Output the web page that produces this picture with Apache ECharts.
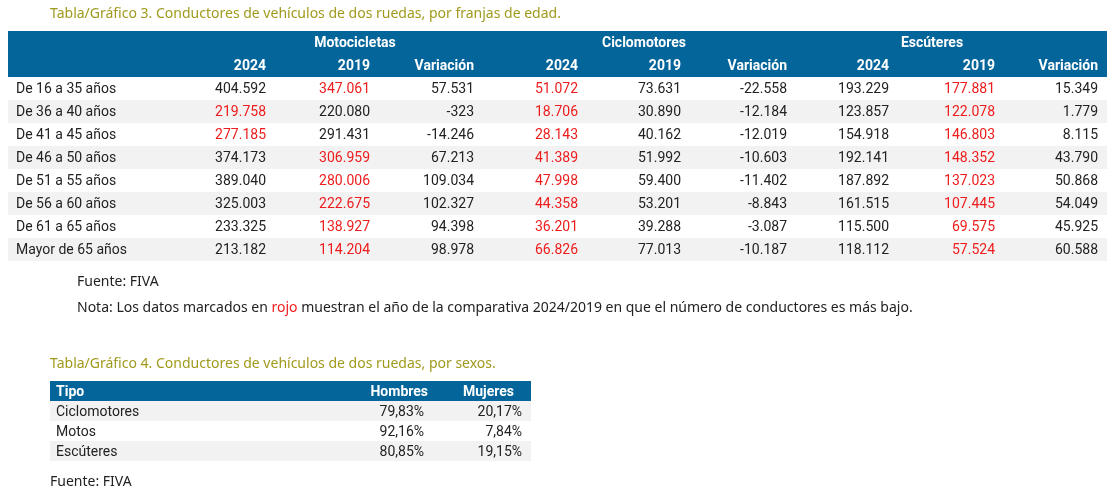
<!DOCTYPE html>
<html>
<head>
<meta charset="utf-8">
<title>Conductores de vehículos de dos ruedas</title>
<script src="https://cdn.jsdelivr.net/npm/echarts@6/dist/echarts.min.js"></script>
<style>html,body{margin:0;padding:0;background:#fff}</style>
</head>
<body>
<div id="main" style="width:1110px;height:491px;"></div>
<script>
// datos tabla 3
var edades = ['De 16 a 35 años','De 36 a 40 años','De 41 a 45 años','De 46 a 50 años','De 51 a 55 años','De 56 a 60 años','De 61 a 65 años','Mayor de 65 años'];
var grupos = ['Motocicletas','Ciclomotores','Escúteres'];
var subCols = ['2024','2019','Variación'];
var moto = [['404.592','347.061','57.531'],['219.758','220.080','-323'],['277.185','291.431','-14.246'],['374.173','306.959','67.213'],['389.040','280.006','109.034'],['325.003','222.675','102.327'],['233.325','138.927','94.398'],['213.182','114.204','98.978']];
var ciclo = [['51.072','73.631','-22.558'],['18.706','30.890','-12.184'],['28.143','40.162','-12.019'],['41.389','51.992','-10.603'],['47.998','59.400','-11.402'],['44.358','53.201','-8.843'],['36.201','39.288','-3.087'],['66.826','77.013','-10.187']];
var escu = [['193.229','177.881','15.349'],['123.857','122.078','1.779'],['154.918','146.803','8.115'],['192.141','148.352','43.790'],['187.892','137.023','50.868'],['161.515','107.445','54.049'],['115.500','69.575','45.925'],['118.112','57.524','60.588']];
// índice de la columna en rojo (año más bajo) por grupo
var rojoMoto = [1,0,0,1,1,1,1,1];
var rojoCiclo = [0,0,0,0,0,0,0,0];
var rojoEscu = [1,1,1,1,1,1,1,1];
// datos tabla 4
var tipos = ['Ciclomotores','Motos','Escúteres'];
var hombres = ['79,83%','92,16%','80,85%'];
var mujeres = ['20,17%','7,84%','19,15%'];

var AZUL = '#03659a', GRIS = '#f2f2f2', ROJO = '#ee1c1c', OLIVA = '#a09a1c', TXT = '#222';
var FT = '"Roboto", "Liberation Sans", sans-serif';
var FN = '"Noto Sans", sans-serif';
var els = [];

function rect(x, y, w, h, c) {
  els.push({type:'rect', shape:{x:x, y:y, width:w, height:h}, style:{fill:c}, silent:true});
}
function txt(x, y, s, o) {
  o = o || {};
  els.push({type:'text', x:x, y:y, silent:true, style:{
    text:s, fill:o.fill || TXT, font:(o.bold ? 'bold ' : '') + (o.size || 14) + 'px ' + (o.family || FT),
    align:o.align || 'left', verticalAlign:'middle', rich:o.rich
  }});
}

// tabla 3
txt(50, 14, 'Tabla/Gráfico 3. Conductores de vehículos de dos ruedas, por franjas de edad.', {fill:OLIVA, family:FN, size:14});
var t0 = 31, rh = 23;
rect(8, t0, 1099, rh * 2, AZUL);
var colX = [266,370,474, 578,681,787, 889,995,1098];
var grpX = [355, 644, 932];
grupos.forEach(function(g, i){ txt(grpX[i], t0 + rh/2 + 1, g, {fill:'#fff', bold:true, align:'center'}); });
colX.forEach(function(x, i){ txt(x, t0 + rh*1.5 + 1, subCols[i % 3], {fill:'#fff', bold:true, align:'right'}); });
var rojos = [rojoMoto, rojoCiclo, rojoEscu];
edades.forEach(function(e, r){
  var y = t0 + rh*2 + r*rh;
  if (r % 2 === 1) rect(8, y, 1099, rh, GRIS);
  txt(16, y + rh/2 + 1, e);
  [moto, ciclo, escu].forEach(function(d, g){
    d[r].forEach(function(v, k){
      txt(colX[g*3 + k], y + rh/2 + 1, v, {align:'right', fill: k === rojos[g][r] ? ROJO : TXT});
    });
  });
});
txt(77, 282, 'Fuente: FIVA', {family:FN});
txt(77, 308, '{a|Nota: Los datos marcados en }{r|rojo}{a| muestran el año de la comparativa 2024/2019 en que el número de conductores es más bajo.}', {
  family:FN, rich:{a:{fill:TXT, font:'14px ' + FN}, r:{fill:ROJO, font:'14px ' + FN}}
});

// tabla 4
txt(50, 364, 'Tabla/Gráfico 4. Conductores de vehículos de dos ruedas, por sexos.', {fill:OLIVA, family:FN});
var s0 = 381, sh = 20;
rect(50, s0, 481, sh, AZUL);
txt(56, s0 + sh/2 + 1, 'Tipo', {fill:'#fff', bold:true});
txt(428, s0 + sh/2 + 1, 'Hombres', {fill:'#fff', bold:true, align:'right'});
txt(514, s0 + sh/2 + 1, 'Mujeres', {fill:'#fff', bold:true, align:'right'});
tipos.forEach(function(t, r){
  var y = s0 + sh + r*sh;
  if (r % 2 === 0) rect(50, y, 481, sh, GRIS);
  txt(56, y + sh/2 + 1, t);
  txt(424, y + sh/2 + 1, hombres[r], {align:'right'});
  txt(522, y + sh/2 + 1, mujeres[r], {align:'right'});
});
txt(50, 482, 'Fuente: FIVA', {family:FN});

var chart = echarts.init(document.getElementById('main'));
chart.setOption({animation:false, graphic:{elements:els}});
</script>
</body>
</html>
